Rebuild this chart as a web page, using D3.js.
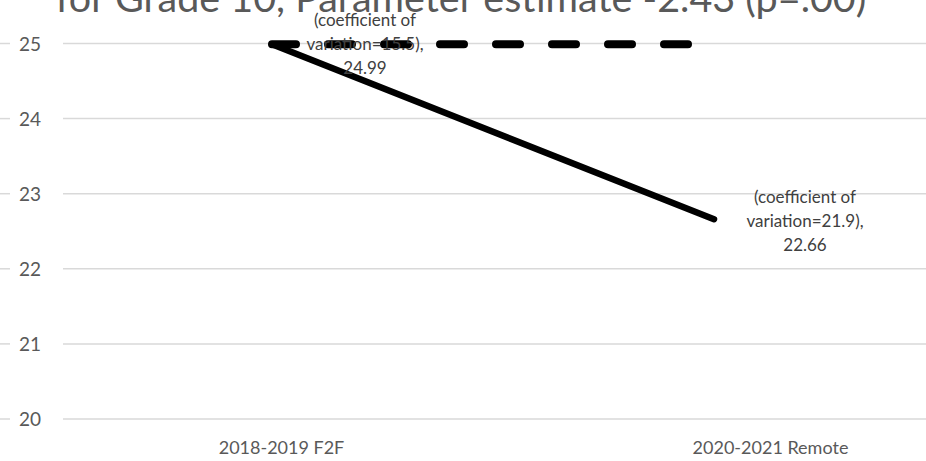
<!DOCTYPE html>
<html>
<head>
<meta charset="utf-8">
<script src="https://cdn.jsdelivr.net/npm/d3@7"></script>
<style>
  html, body { margin: 0; padding: 0; background: #fff; }
  svg { display: block; font-family: "Lato", "Open Sans", sans-serif; }
</style>
</head>
<body>
<svg id="chart" width="926" height="461"></svg>
<script>
// Mean scores by school year, Grade 10
const categories = ["2018-2019 F2F", "2020-2021 Remote"];
const observed = [24.99, 22.66];      // solid line
const baseline = [24.99, 24.99];      // dashed reference line (no change)
const cvLabels = ["15.5", "21.9"];
const yTicks = [20, 21, 22, 23, 24, 25];
const titleText = "for Grade 10, Parameter estimate -2.43 (p=.00)";

const svg = d3.select("#chart");
const W = 926, H = 461;

const y = d3.scaleLinear().domain([20, 25]).range([419, 43.5]);
// positions of the plotted points
const xMark = d3.scalePoint().domain(categories).range([272, 714]);
// positions of the category labels under the axis
const xAxisScale = d3.scalePoint().domain(categories).range([281, 770]);

const textColor = "#595959";

// horizontal gridlines
const grid = svg.append("g");
grid.selectAll("line.g").data(yTicks).join("line")
  .attr("x1", 63).attr("x2", W)
  .attr("y1", d => y(d)).attr("y2", d => y(d))
  .attr("stroke", "#d9d9d9").attr("stroke-width", 1.5);
grid.selectAll("line.s").data(yTicks).join("line")
  .attr("x1", 0).attr("x2", 10)
  .attr("y1", d => y(d)).attr("y2", d => y(d))
  .attr("stroke", "#d9d9d9").attr("stroke-width", 1.5);

// y axis labels
const yAxis = d3.axisLeft(y).tickValues(yTicks).tickFormat(d3.format("d"))
  .tickSize(0).tickPadding(0);
const gy = svg.append("g").attr("transform", "translate(41,0)").call(yAxis);
gy.select(".domain").remove();
gy.selectAll("text").attr("fill", textColor).style("font-size", "19px")
  .style("font-family", "Lato, sans-serif").attr("dy", "0.35em");

// x axis labels
const xAxis = d3.axisBottom(xAxisScale).tickSize(0).tickPadding(0);
const gx = svg.append("g").attr("transform", "translate(0,441)").call(xAxis);
gx.select(".domain").remove();
gx.selectAll("text").attr("fill", textColor).style("font-size", "18px")
  .style("font-family", "Lato, sans-serif");

// lines
const line = d3.line().x((d, i) => xMark(categories[i])).y(d => y(d));
svg.append("path").datum(baseline).attr("d", line)
  .attr("fill", "none").attr("stroke", "#000").attr("stroke-width", 8)
  .attr("stroke-linecap", "round").attr("stroke-dasharray", "24 32");
svg.append("path").datum(observed).attr("d", line)
  .attr("fill", "none").attr("stroke", "#000").attr("stroke-width", 6.5)
  .attr("stroke-linecap", "round");

// data labels
const labelPos = [{dx: 93, dy: -24}, {dx: 91, dy: -22}];
observed.forEach((v, i) => {
  const cx = xMark(categories[i]) + labelPos[i].dx;
  const top = y(v) + labelPos[i].dy;
  const t = svg.append("text").attr("text-anchor", "middle")
    .attr("fill", "#404040").style("font-size", "17px");
  const lines = ["(coefficient of", "variation=" + cvLabels[i] + "),", d3.format(".2f")(v)];
  lines.forEach((s, k) => {
    t.append("tspan").attr("x", cx).attr("y", top + k * 24).attr("dy", "0.35em").text(s);
  });
});

// title (top cut by the frame)
svg.append("text").attr("x", 461).attr("y", 12)
  .attr("text-anchor", "middle").attr("fill", textColor)
  .style("font-size", "39.5px").text(titleText);
</script>
</body>
</html>
